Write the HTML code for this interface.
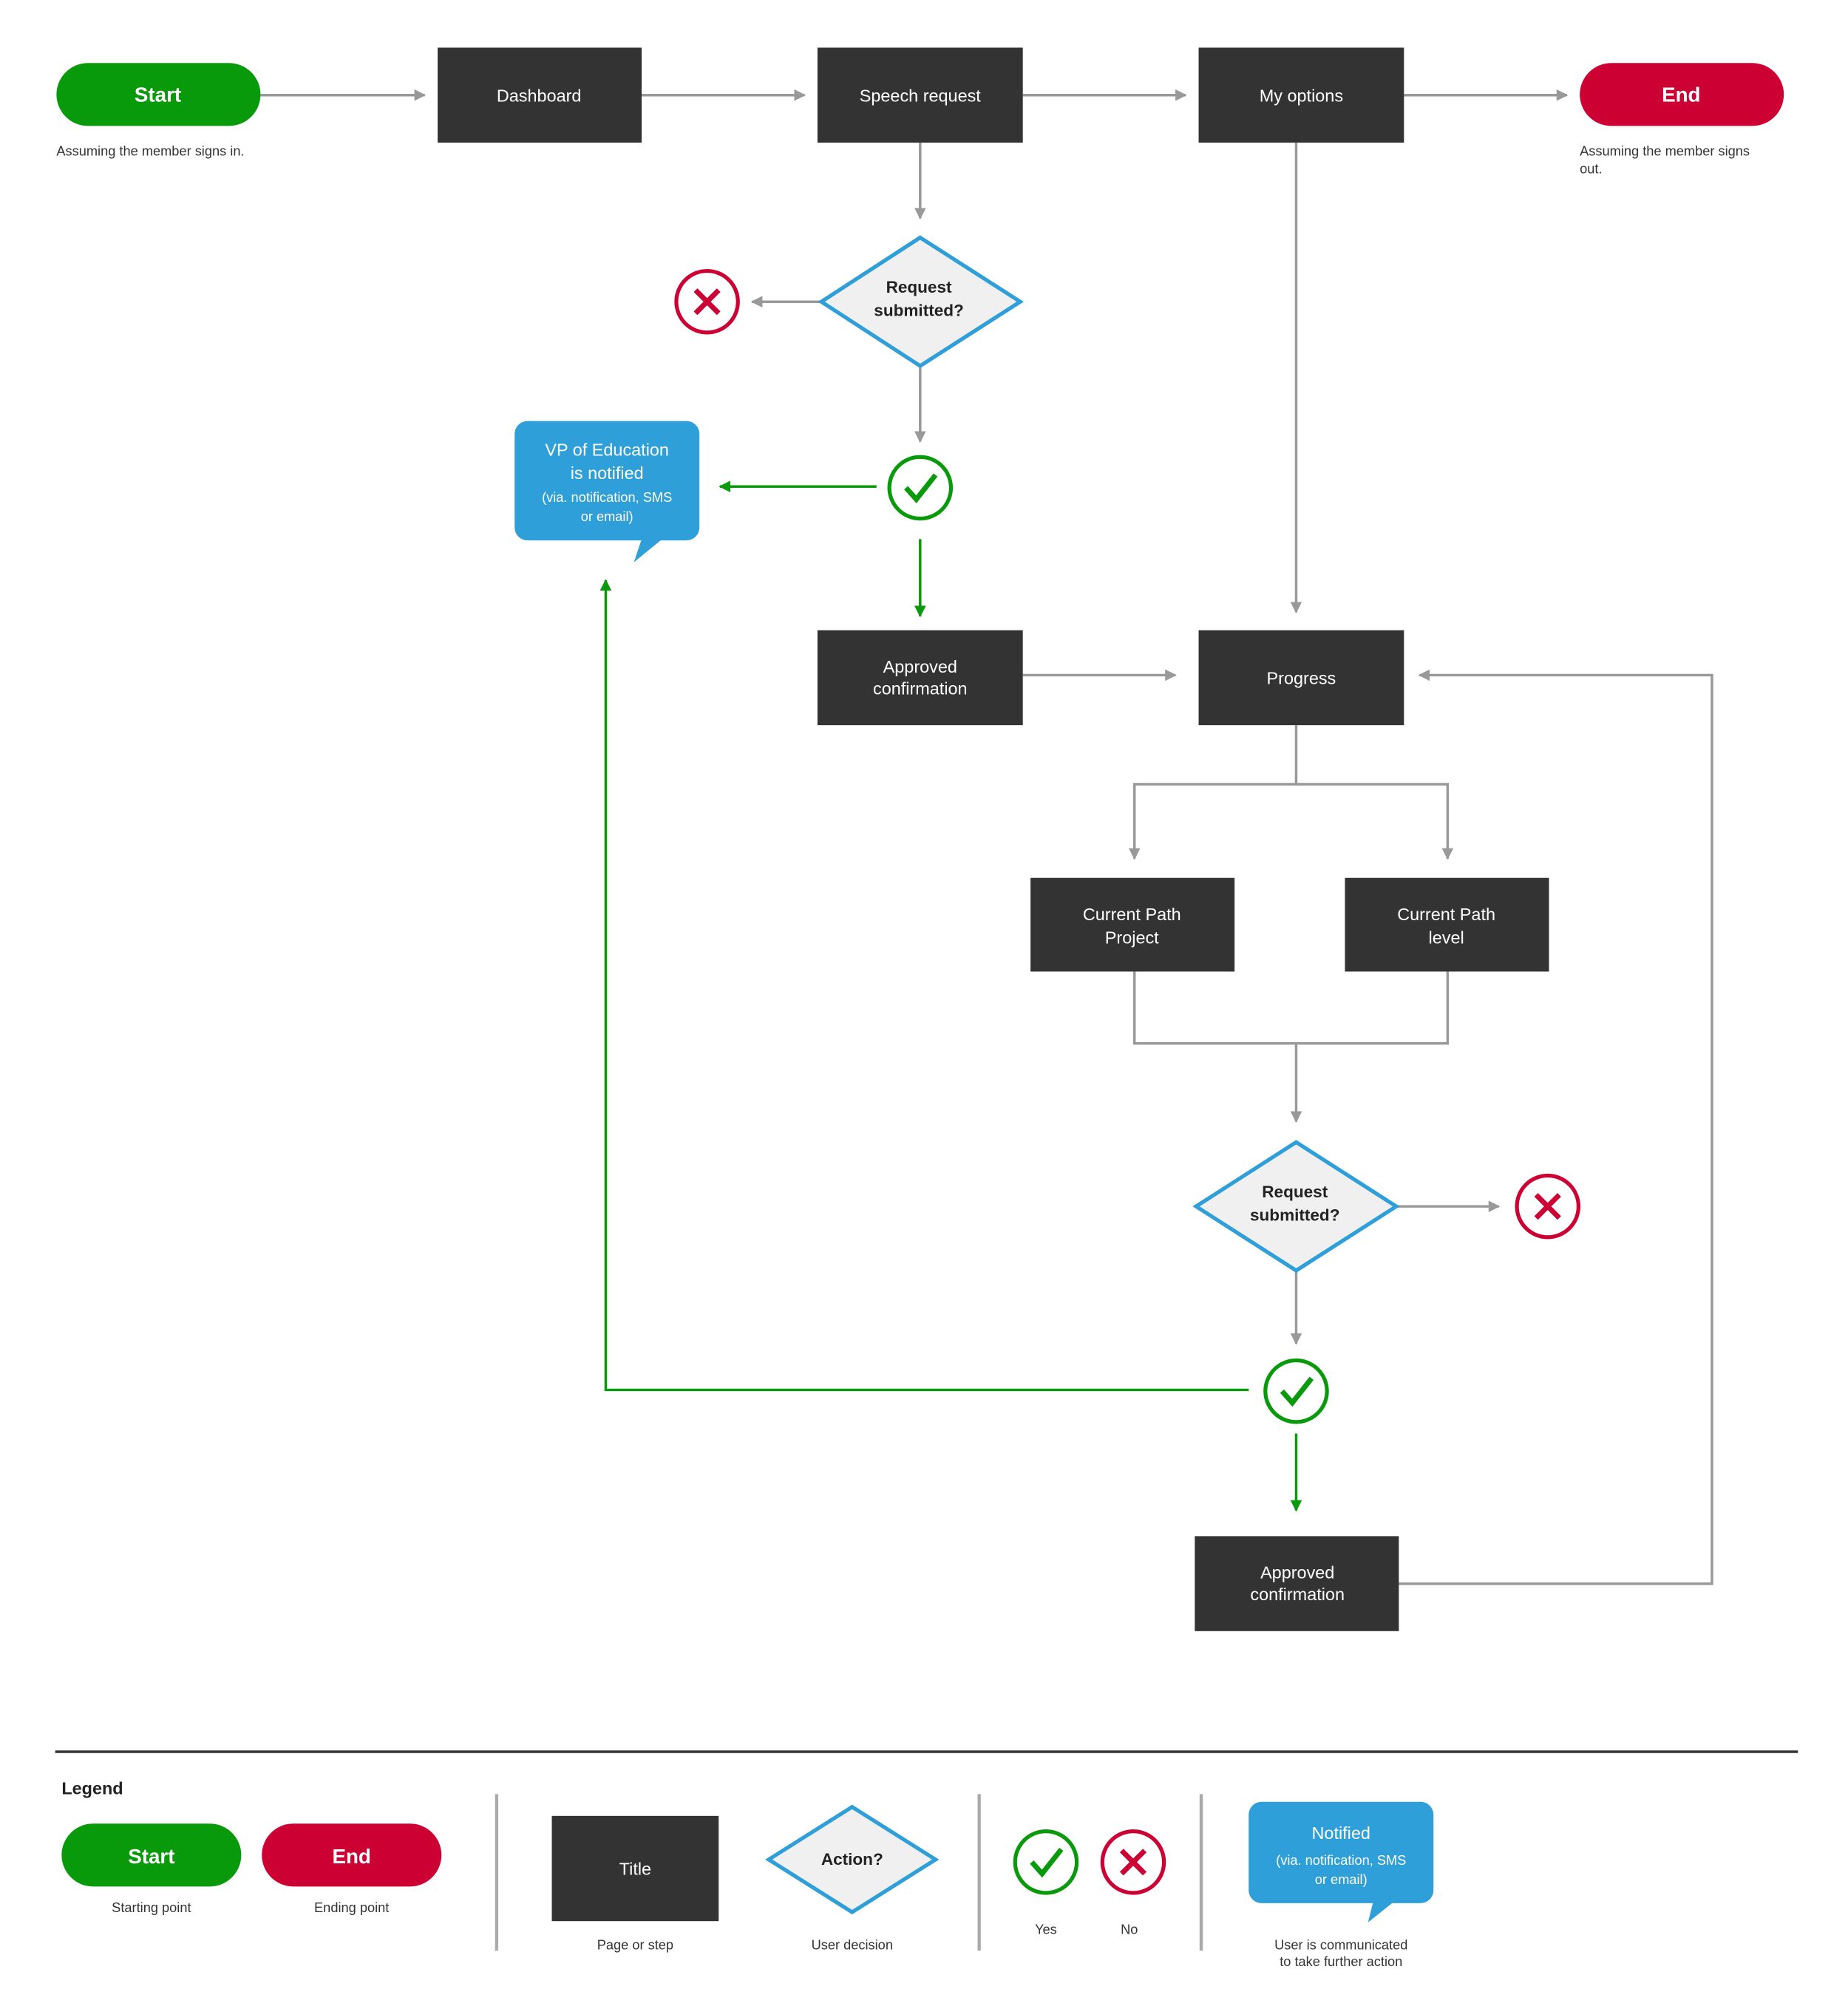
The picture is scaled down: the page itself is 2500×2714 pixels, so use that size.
<!DOCTYPE html>
<html><head><meta charset="utf-8"><style>
html,body{margin:0;padding:0;background:#fff;}
svg{display:block;}
text{font-family:"Liberation Sans",sans-serif;}
</style></head><body>
<svg width="2500" height="2714" viewBox="0 0 1440 1563" xmlns="http://www.w3.org/2000/svg">
<defs>
<marker id="ag" viewBox="0 0 10 10" refX="9" refY="5" markerWidth="5" markerHeight="5" orient="auto" markerUnits="userSpaceOnUse"><path d="M0,0 L10,5 L0,10 z" fill="#999"/></marker>
<marker id="ag2" viewBox="0 0 10 10" refX="9" refY="5" markerWidth="9" markerHeight="9" orient="auto" markerUnits="userSpaceOnUse"><path d="M0,0 L10,5 L0,10 z" fill="#999"/></marker>
<marker id="gg" viewBox="0 0 10 10" refX="9" refY="5" markerWidth="9" markerHeight="9" orient="auto" markerUnits="userSpaceOnUse"><path d="M0,0 L10,5 L0,10 z" fill="#089a0a"/></marker>
</defs>
<rect width="1440" height="1563" fill="#fff"/>
<g fill="none" stroke="#999" stroke-width="2">
<path d="M203 74H331" marker-end="url(#ag2)"/>
<path d="M500 74H627" marker-end="url(#ag2)"/>
<path d="M797 74H924" marker-end="url(#ag2)"/>
<path d="M1094 74H1221" marker-end="url(#ag2)"/>
<path d="M717 111V170" marker-end="url(#ag2)"/>
<path d="M640 235H586" marker-end="url(#ag2)"/>
<path d="M717 285V344" marker-end="url(#ag2)"/>
<path d="M797 526H916" marker-end="url(#ag2)"/>
<path d="M1010 111V477" marker-end="url(#ag2)"/>
<path d="M1010 565V611H884V669" marker-end="url(#ag2)"/>
<path d="M1010 611H1128V669" marker-end="url(#ag2)"/>
<path d="M884 757V813H1128V757"/>
<path d="M1010 813V874" marker-end="url(#ag2)"/>
<path d="M1088 940H1168" marker-end="url(#ag2)"/>
<path d="M1010 990V1047" marker-end="url(#ag2)"/>
<path d="M1090 1234H1334V526H1106" marker-end="url(#ag2)"/>
</g>
<g fill="none" stroke="#089a0a" stroke-width="2">
<path d="M683 379H561" marker-end="url(#gg)"/>
<path d="M717 420V480" marker-end="url(#gg)"/>
<path d="M973 1083H472V452" marker-end="url(#gg)"/>
<path d="M1010 1117V1177" marker-end="url(#gg)"/>
</g>
<!-- pills -->
<rect x="44" y="49" width="159" height="49" rx="24.5" fill="#089a0a"/>
<text x="123" y="79" font-size="16" font-weight="bold" fill="#fff" text-anchor="middle">Start</text>
<text x="44" y="121" font-size="10.5" fill="#333">Assuming the member signs in.</text>
<rect x="1231" y="49" width="159" height="49" rx="24.5" fill="#cc0033"/>
<text x="1310" y="79" font-size="16" font-weight="bold" fill="#fff" text-anchor="middle">End</text>
<text x="1231" y="121" font-size="10.5" fill="#333">Assuming the member signs</text>
<text x="1231" y="135" font-size="10.5" fill="#333">out.</text>
<!-- boxes -->
<g fill="#333">
<rect x="341" y="37" width="159" height="74"/>
<rect x="637" y="37" width="160" height="74"/>
<rect x="934" y="37" width="160" height="74"/>
<rect x="637" y="491" width="160" height="74"/>
<rect x="934" y="491" width="160" height="74"/>
<rect x="803" y="684" width="159" height="73"/>
<rect x="1048" y="684" width="159" height="73"/>
<rect x="931" y="1197" width="159" height="74"/>
</g>
<g fill="#fff" font-size="13.5" text-anchor="middle">
<text x="420" y="79">Dashboard</text>
<text x="717" y="79">Speech request</text>
<text x="1014" y="79">My options</text>
<text x="717" y="524">Approved</text>
<text x="717" y="541">confirmation</text>
<text x="1014" y="533">Progress</text>
<text x="882" y="717">Current Path</text>
<text x="882" y="735">Project</text>
<text x="1127" y="717">Current Path</text>
<text x="1127" y="735">level</text>
<text x="1011" y="1230">Approved</text>
<text x="1011" y="1247">confirmation</text>
</g>
<!-- diamonds -->
<g fill="#f0f0f0" stroke="#2e9fd8" stroke-width="3">
<path d="M717 185L795 235L717 285L640 235Z"/>
<path d="M1010 890L1088 940L1010 990L932 940Z"/>
<path d="M664 1408L729 1449L664 1490L599 1449Z"/>
</g>
<g fill="#222" font-size="13" font-weight="bold" text-anchor="middle">
<text x="716" y="228">Request</text>
<text x="716" y="246">submitted?</text>
<text x="1009" y="933">Request</text>
<text x="1009" y="951">submitted?</text>
<text x="664" y="1453">Action?</text>
</g>
<!-- circles -->
<g fill="#fff" stroke-width="3">
<circle cx="551" cy="235" r="24" stroke="#cc0033"/>
<circle cx="1206" cy="940" r="24" stroke="#cc0033"/>
<circle cx="883" cy="1451" r="24" stroke="#cc0033"/>
<circle cx="717" cy="380" r="24" stroke="#089a0a"/>
<circle cx="1010" cy="1084" r="24" stroke="#089a0a"/>
<circle cx="815" cy="1451" r="24" stroke="#089a0a"/>
</g>
<g fill="none" stroke="#cc0033" stroke-width="4">
<path d="M542 226L560 244M560 226L542 244"/>
<path d="M1197 931L1215 949M1215 931L1197 949"/>
<path d="M874 1442L892 1460M892 1442L874 1460"/>
</g>
<g fill="none" stroke="#089a0a" stroke-width="4">
<path d="M706 380L714 389L729 370"/>
<path d="M999 1084L1007 1093L1022 1074"/>
<path d="M804 1451L812 1460L827 1441"/>
</g>
<!-- bubbles -->
<rect x="401" y="328" width="144" height="93" rx="10" fill="#2e9fd8"/>
<path d="M500 420L516 420L494 438Z" fill="#2e9fd8"/>
<g fill="#fff" text-anchor="middle">
<text x="473" y="355" font-size="13.5">VP of Education</text>
<text x="473" y="373" font-size="13.5">is notified</text>
<text x="473" y="391" font-size="10.5">(via. notification, SMS</text>
<text x="473" y="406" font-size="10.5">or email)</text>
</g>
<rect x="973" y="1404" width="144" height="79" rx="10" fill="#2e9fd8"/>
<path d="M1070 1482L1086 1482L1066 1498Z" fill="#2e9fd8"/>
<g fill="#fff" text-anchor="middle">
<text x="1045" y="1433" font-size="13.5">Notified</text>
<text x="1045" y="1453" font-size="10.5">(via. notification, SMS</text>
<text x="1045" y="1468" font-size="10.5">or email)</text>
</g>
<!-- legend -->
<line x1="43" y1="1365" x2="1401" y2="1365" stroke="#333" stroke-width="2"/>
<text x="48" y="1398" font-size="13.5" font-weight="bold" fill="#222">Legend</text>
<g stroke="#aaa" stroke-width="2.5">
<line x1="387" y1="1398" x2="387" y2="1520"/>
<line x1="763" y1="1398" x2="763" y2="1520"/>
<line x1="936" y1="1398" x2="936" y2="1520"/>
</g>
<rect x="48" y="1421" width="140" height="49" rx="24.5" fill="#089a0a"/>
<rect x="204" y="1421" width="140" height="49" rx="24.5" fill="#cc0033"/>
<text x="118" y="1452" font-size="16" font-weight="bold" fill="#fff" text-anchor="middle">Start</text>
<text x="274" y="1452" font-size="16" font-weight="bold" fill="#fff" text-anchor="middle">End</text>
<rect x="430" y="1415" width="130" height="82" fill="#333"/>
<text x="495" y="1461" font-size="13.5" fill="#fff" text-anchor="middle">Title</text>
<g fill="#333" font-size="10.5" text-anchor="middle">
<text x="118" y="1490">Starting point</text>
<text x="274" y="1490">Ending point</text>
<text x="495" y="1519">Page or step</text>
<text x="664" y="1519">User decision</text>
<text x="815" y="1507">Yes</text>
<text x="880" y="1507">No</text>
<text x="1045" y="1519">User is communicated</text>
<text x="1045" y="1532">to take further action</text>
</g>
</svg>
</body></html>
